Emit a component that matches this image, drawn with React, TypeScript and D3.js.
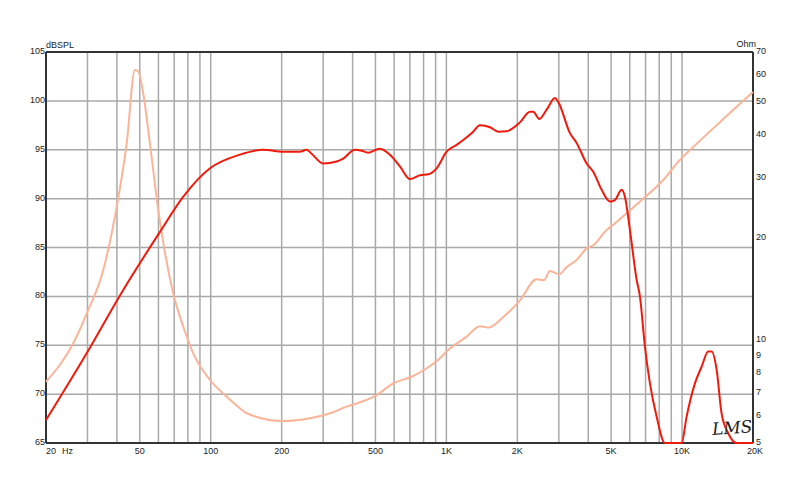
import React from "react";
import * as d3 from "d3";

// SPL curve (Hz, dB SPL)
const splFreq = [20, 29.8, 41.2, 60.9, 76.5, 99.3, 133, 167, 203, 239, 255, 268, 300, 342, 365, 409, 437, 466, 522, 576, 635, 701, 772, 838, 909, 1002, 1105, 1179, 1300, 1388, 1531, 1660, 1802, 2052, 2262, 2336, 2478, 2664, 2888, 2982, 3344, 3570, 3936, 4198, 4558, 4943, 5190, 5540, 5722, 6008, 6416, 6626, 6958, 7306, 7798, 8458, 9956, 10456, 11340, 12106, 12914, 13350, 14018, 14718, 15700, 17040, 20000];
const splDb = [67.35, 74.2, 80.1, 86.6, 90.2, 93.1, 94.5, 95.0, 94.8, 94.8, 95.0, 94.6, 93.6, 93.8, 94.1, 95.0, 94.9, 94.7, 95.1, 94.5, 93.3, 92.0, 92.4, 92.5, 93.1, 94.8, 95.5, 96.0, 96.85, 97.5, 97.3, 96.85, 96.9, 97.8, 98.9, 98.9, 98.15, 99.1, 100.3, 99.9, 96.7, 95.7, 93.6, 92.75, 90.9, 89.7, 89.85, 90.9, 90.2, 86.8, 81.7, 80.0, 74.85, 71.1, 67.7, 65, 65, 67.7, 71.1, 72.8, 74.35, 74.35, 72.5, 68.0, 66.0, 65, 65];

// Impedance curve (Hz, Ohm)
const impFreq = [20, 26.1, 29.8, 35.0, 39.9, 44.0, 47.7, 49.3, 51.7, 55.2, 59.9, 64.0, 69.4, 76.5, 84.3, 99.3, 117, 133, 142, 203, 264, 321, 377, 416, 506, 595, 712, 825, 939, 1018, 1219, 1388, 1505, 1743, 2052, 2415, 2594, 2750, 3004, 3238, 3570, 3936, 4198, 4786, 5104, 5909, 6626, 8318, 9794, 10800, 14476, 20000];
const impOhm = [7.56, 9.8, 12.0, 16.07, 24.6, 37.8, 62.0, 61.3, 53.0, 37.8, 24.1, 18.0, 13.7, 10.96, 9.16, 7.65, 6.83, 6.32, 6.11, 5.8, 5.91, 6.11, 6.39, 6.53, 6.91, 7.48, 7.82, 8.28, 8.86, 9.37, 10.25, 11.0, 10.9, 11.7, 13.1, 15.1, 15.0, 15.96, 15.6, 16.4, 17.2, 18.6, 19.0, 21.05, 21.8, 23.8, 25.5, 29.5, 33.8, 36.1, 43.6, 53.4];

const xGrid = [30, 40, 50, 60, 70, 80, 90, 100, 200, 300, 400, 500, 600, 700, 800, 900, 1000, 2000, 3000, 4000, 5000, 6000, 7000, 8000, 9000, 10000];
const xTicks = [50, 100, 200, 500, 1000, 2000, 5000, 10000, 20000];
const xTickLabels = ["50", "100", "200", "500", "1K", "2K", "5K", "10K", "20K"];
const dbTicks = [65, 70, 75, 80, 85, 90, 95, 100, 105];
const ohmTicks = [70, 60, 50, 40, 30, 20, 10, 9, 8, 7, 6, 5];

const W = 800, H = 484;
const L = 46, R = 753, T = 52, B = 443;

export default function App() {
  const x = d3.scaleLog().domain([20, 20000]).range([L, R]);
  const yL = d3.scaleLinear().domain([65, 105]).range([B, T]);
  const yR = d3.scaleLog().domain([5, 70]).range([B, T]);

  const splLine = d3
    .line<number>()
    .x((_, i) => x(splFreq[i]))
    .y((d) => yL(d))
    .curve(d3.curveMonotoneX);
  const impLine = d3
    .line<number>()
    .x((_, i) => x(impFreq[i]))
    .y((d) => yR(d))
    .curve(d3.curveMonotoneX);

  const font = "'Liberation Sans', Arial, sans-serif";
  const gridColor = "#a9a9a9";
  const axisColor = "#333";

  return (
    <svg
      width={W}
      height={H}
      style={{ position: "absolute", left: 0, top: 0, background: "#fff" }}
      fontFamily={font}
    >
      <rect x={0} y={0} width={W} height={H} fill="#fff" />
      {/* grid */}
      {xGrid.map((f) => (
        <line key={"vx" + f} x1={x(f)} x2={x(f)} y1={T} y2={B} stroke={gridColor} strokeWidth={1.5} />
      ))}
      {dbTicks.map((v) => (
        <line key={"hy" + v} x1={L} x2={R} y1={yL(v)} y2={yL(v)} stroke={gridColor} strokeWidth={1.5} />
      ))}
      {/* frame */}
      <line x1={L} x2={R} y1={T} y2={T} stroke={axisColor} strokeWidth={2} />
      <line x1={L} x2={R} y1={B} y2={B} stroke={axisColor} strokeWidth={2} />
      <line x1={L} x2={L} y1={T} y2={B} stroke={axisColor} strokeWidth={2} />
      <line x1={R} x2={R} y1={T} y2={B} stroke={axisColor} strokeWidth={2} />

      {/* curves */}
      <path d={impLine(impOhm) || ""} fill="none" stroke="#fbb498" strokeWidth={2} strokeLinejoin="round" />
      <path d={splLine(splDb) || ""} fill="none" stroke="#f01a0c" strokeWidth={2} strokeLinejoin="round" />

      {/* left labels */}
      <text x={L} y={48} fontSize={9} fill="#222">dBSPL</text>
      {dbTicks.map((v) => (
        <text key={"ly" + v} x={L - 1} y={yL(v) + 2} fontSize={9} fill="#222" textAnchor="end">
          {v}
        </text>
      ))}
      {/* right labels */}
      <text x={R + 3} y={47} fontSize={9} fill="#222" textAnchor="end">Ohm</text>
      {ohmTicks.map((v) => (
        <text key={"ry" + v} x={R + 3} y={yR(v) + 2} fontSize={9} fill="#222">
          {v}
        </text>
      ))}
      {/* bottom labels */}
      <text x={L} y={454} fontSize={9} fill="#222">20</text>
      <text x={L + 16} y={454} fontSize={9} fill="#222">Hz</text>
      {xTicks.map((f, i) => (
        <text key={"bx" + f} x={x(f) + (f === 20000 ? 2 : 0)} y={454} fontSize={9} fill="#222" textAnchor="middle">
          {xTickLabels[i]}
        </text>
      ))}
      {/* logo */}
      <text
        x={712}
        y={434}
        fontSize={17}
        fill="#222"
        fontStyle="italic"
        fontFamily="'DejaVu Serif', serif"
        transform="rotate(-4 728 428)"
      >
        LMS
      </text>
    </svg>
  );
}
